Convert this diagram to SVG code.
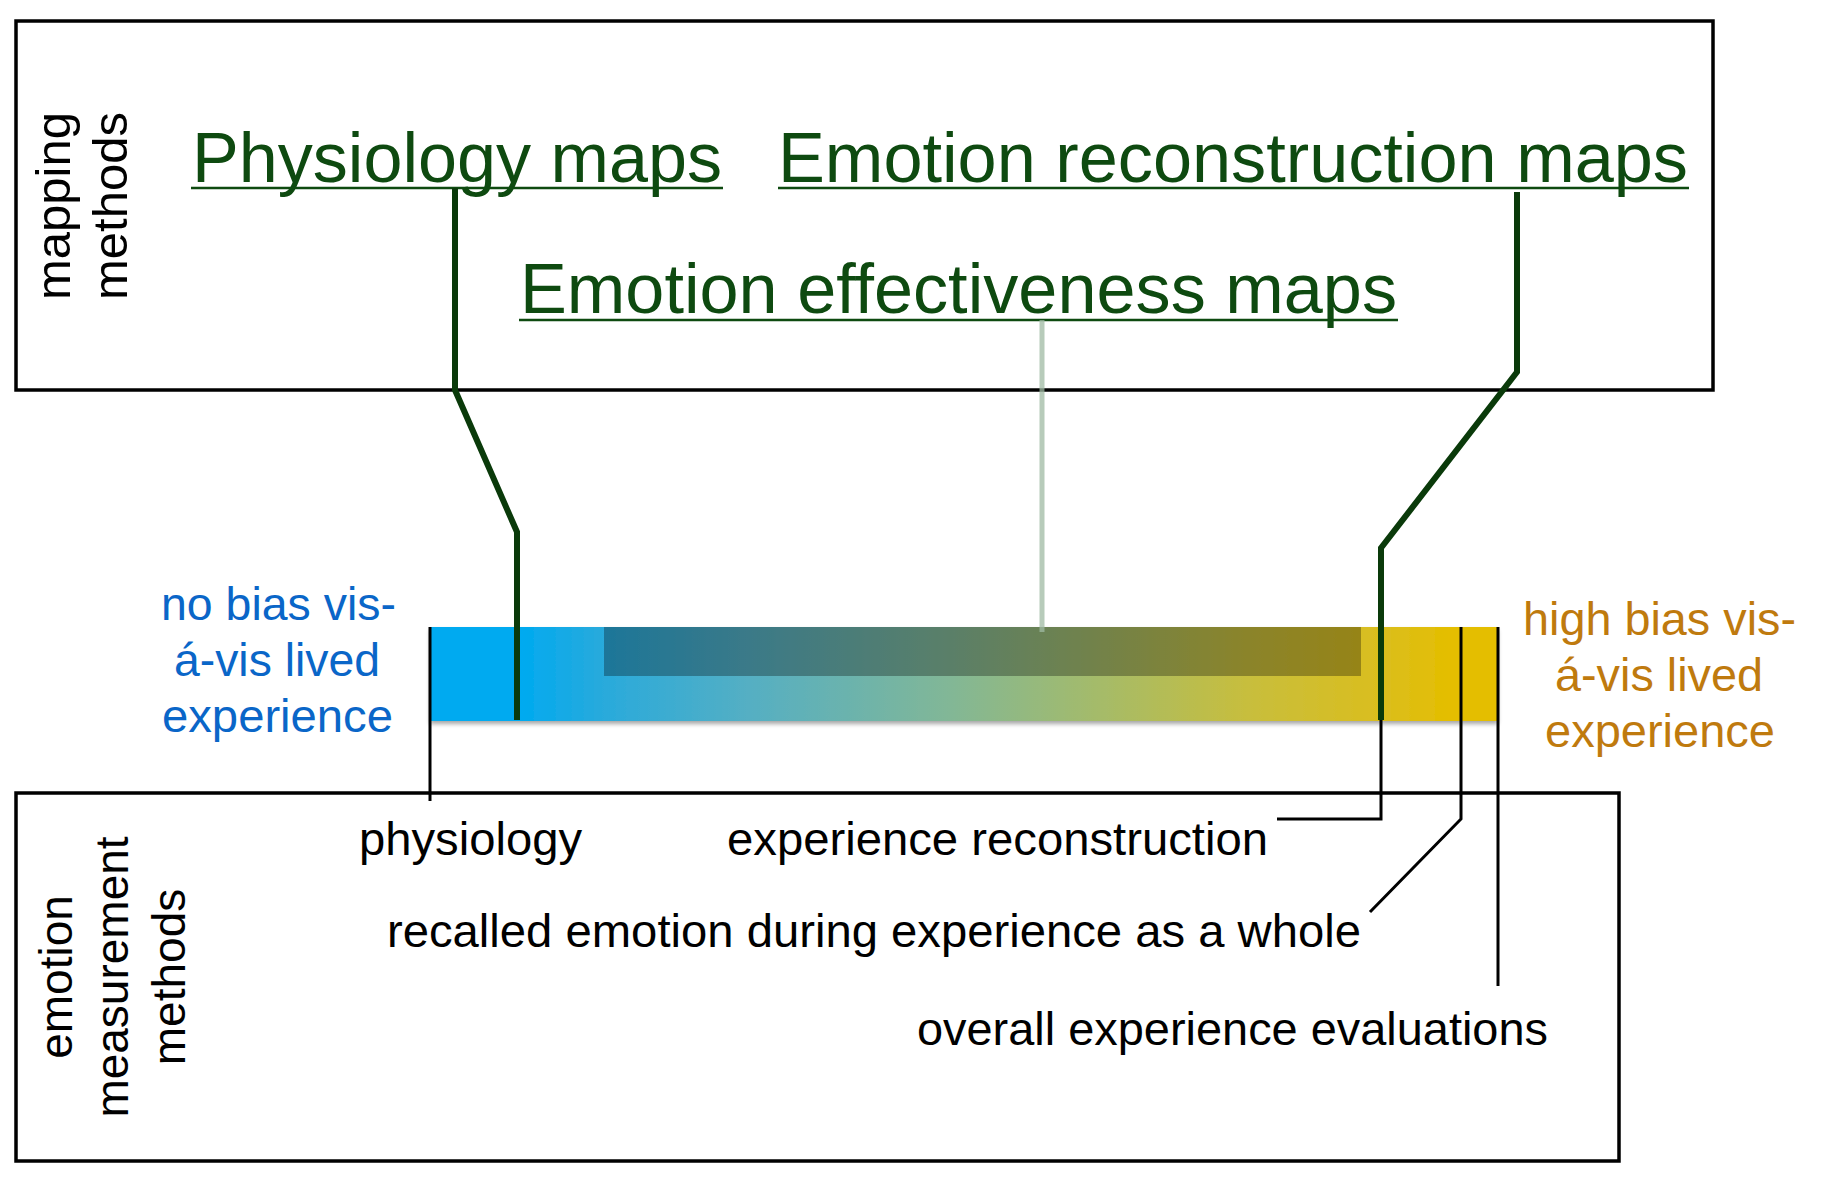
<svg xmlns="http://www.w3.org/2000/svg" width="1821" height="1186" viewBox="0 0 1821 1186">
<style>
  .box{fill:none;stroke:#000;stroke-width:3.5}
  .map{font-family:"Liberation Sans",Arial,sans-serif;font-size:70px;fill:#0e4a10}
  .ul{stroke:#0e4a10;stroke-width:2.5}
  .lbl{font-family:"Liberation Sans",Arial,sans-serif;font-size:46px;fill:#000}
  .side{font-family:"Liberation Sans",Arial,sans-serif;font-size:47px;fill:#000}
  .blue{fill:#0a66c8}
  .orange{fill:#bf7a0e}
  .g{fill:none;stroke:#0a3a0a;stroke-width:6;stroke-linejoin:miter}
  .k{fill:none;stroke:#000;stroke-width:3}
</style>
<defs>
  <linearGradient id="bias" x1="0" y1="0" x2="1" y2="0">
    <stop offset="0" stop-color="#00AAF0"/>
    <stop offset="0.085" stop-color="#00AAF0"/>
    <stop offset="0.16" stop-color="#28AADC"/>
    <stop offset="0.30" stop-color="#55AFC3"/>
    <stop offset="0.487" stop-color="#82B796"/>
    <stop offset="0.627" stop-color="#A5BB69"/>
    <stop offset="0.768" stop-color="#C8BE3C"/>
    <stop offset="0.89" stop-color="#DABE1E"/>
    <stop offset="0.955" stop-color="#E4BE00"/>
    <stop offset="1" stop-color="#E4BE00"/>
  </linearGradient>
  <filter id="sh" x="-5%" y="-20%" width="110%" height="150%">
    <feGaussianBlur in="SourceAlpha" stdDeviation="2"/>
    <feOffset dy="3"/>
    <feComponentTransfer><feFuncA type="linear" slope="0.35"/></feComponentTransfer>
    <feMerge><feMergeNode/><feMergeNode in="SourceGraphic"/></feMerge>
  </filter>
</defs>

<g id="mapping-methods-box">
  <rect class="box" x="16" y="21" width="1697" height="369"/>
  <text class="side" transform="translate(70,206) rotate(-90)" text-anchor="middle" style="font-size:49px">mapping</text>
  <text class="side" transform="translate(127,206) rotate(-90)" text-anchor="middle" style="font-size:49px">methods</text>
</g>

<g id="physiology-maps">
  <text class="map" x="192" y="182" textLength="530" lengthAdjust="spacingAndGlyphs">Physiology maps</text>
  <line class="ul" x1="191" y1="188" x2="723" y2="188"/>
</g>
<g id="emotion-reconstruction-maps">
  <text class="map" x="778" y="182" textLength="910" lengthAdjust="spacingAndGlyphs">Emotion reconstruction maps</text>
  <line class="ul" x1="778" y1="188" x2="1689" y2="188"/>
</g>
<g id="emotion-effectiveness-maps">
  <text class="map" x="520" y="313" textLength="877" lengthAdjust="spacingAndGlyphs">Emotion effectiveness maps</text>
  <line class="ul" x1="519" y1="320" x2="1398" y2="320"/>
</g>

<g id="bias-bar">
  <rect x="430" y="627" width="1068" height="94" fill="url(#bias)" filter="url(#sh)"/>
  <rect x="604" y="627" width="757" height="49" fill="#000" fill-opacity="0.3"/>
</g>

<g id="no-bias-label">
  <text class="side blue" x="161" y="620" textLength="235" lengthAdjust="spacingAndGlyphs">no bias vis-</text>
  <text class="side blue" x="174" y="676" textLength="206" lengthAdjust="spacingAndGlyphs">á-vis lived</text>
  <text class="side blue" x="162" y="732" textLength="231" lengthAdjust="spacingAndGlyphs">experience</text>
</g>
<g id="high-bias-label">
  <text class="side orange" x="1523" y="635" textLength="273" lengthAdjust="spacingAndGlyphs">high bias vis-</text>
  <text class="side orange" x="1555" y="691" textLength="208" lengthAdjust="spacingAndGlyphs">á-vis lived</text>
  <text class="side orange" x="1545" y="747" textLength="230" lengthAdjust="spacingAndGlyphs">experience</text>
</g>

<g id="measurement-methods-box">
  <rect class="box" x="16" y="793" width="1603" height="368"/>
  <text class="lbl" transform="translate(72,977) rotate(-90)" text-anchor="middle">emotion</text>
  <text class="lbl" transform="translate(128,977) rotate(-90)" text-anchor="middle">measurement</text>
  <text class="lbl" transform="translate(185,977) rotate(-90)" text-anchor="middle">methods</text>
</g>

<g id="physiology">
  <text class="lbl" x="359" y="855" textLength="223" lengthAdjust="spacingAndGlyphs">physiology</text>
</g>
<g id="experience-reconstruction">
  <text class="lbl" x="727" y="855" textLength="541" lengthAdjust="spacingAndGlyphs">experience reconstruction</text>
</g>
<g id="recalled-emotion">
  <text class="lbl" x="387" y="947" textLength="974" lengthAdjust="spacingAndGlyphs">recalled emotion during experience as a whole</text>
</g>
<g id="overall-evaluations">
  <text class="lbl" x="917" y="1045" textLength="631" lengthAdjust="spacingAndGlyphs">overall experience evaluations</text>
</g>

<g id="connectors">
  <path d="M1042,320 V632" fill="none" stroke="#9fbaa3" stroke-opacity="0.75" stroke-width="5"/>
  <path class="g" d="M455,188 V390 L517,532 V720"/>
  <path class="g" d="M1517,192 V372 L1381,548 V720"/>
  <path class="k" d="M1381,720 V819 H1277" stroke-width="4"/>
  <path class="k" d="M430,627 V801"/>
  <path class="k" d="M1461,627 V819 L1370,912"/>
  <path class="k" d="M1498,627 V986"/>
</g>
</svg>
